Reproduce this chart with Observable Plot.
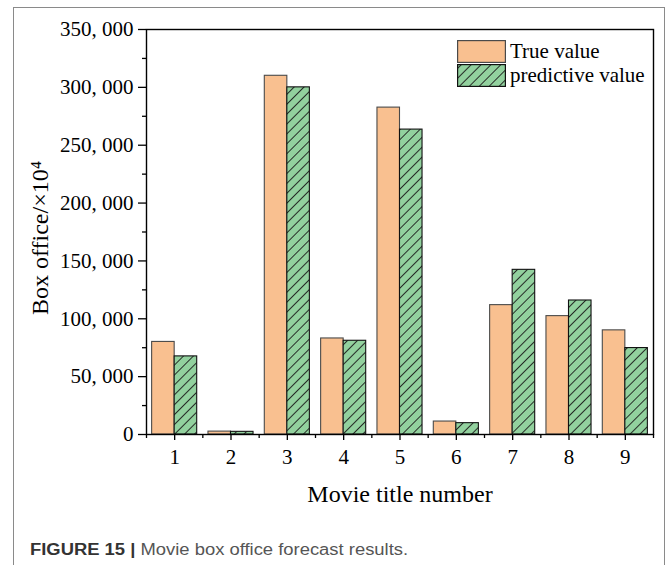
<!DOCTYPE html>
<html>
<head>
<meta charset="utf-8">
<script src="https://cdn.jsdelivr.net/npm/d3@7"></script>
<script src="https://cdn.jsdelivr.net/npm/@observablehq/plot@0.6"></script>
<style>
  html, body { margin: 0; padding: 0; background: #fff; }
  #wrap { position: relative; width: 668px; height: 565px; overflow: hidden; background: #fff; }
  #border { position: absolute; left: 13px; top: 7px; width: 652px; height: 600px; border: 1px solid #8a8a8a; box-sizing: border-box; }
  #chart { position: absolute; left: 0; top: 0; }
  #legend { position: absolute; left: 457px; top: 40px; font-family: "Liberation Serif", serif; font-size: 21px; color: #000; }
  .row { display: flex; align-items: center; height: 23.5px; }
  .row svg { margin-right: 4px; display: block; }
  #caption { position: absolute; left: 30px; top: 541px; font-family: "Liberation Sans", Arial, sans-serif; font-size: 16px; color: #555; white-space: nowrap; transform: scaleX(1.15); transform-origin: 0 0; }
  #caption b { color: #333; }
</style>
</head>
<body>
<svg width="0" height="0" style="position:absolute">
  <defs>
    <pattern id="hatch" patternUnits="userSpaceOnUse" width="7" height="7" patternTransform="rotate(45)">
      <rect width="7" height="7" fill="#92D19E"></rect>
      <line x1="3.5" y1="0" x2="3.5" y2="7" stroke="#1a1a1a" stroke-width="0.9"></line>
    </pattern>
  </defs>
</svg>
<div id="wrap">
  <div id="border"></div>
  <div id="chart"></div>
  <div id="legend"></div>
  <div id="caption"><b>FIGURE 15 | </b>Movie box office forecast results.</div>
</div>
<script>
// ---- data ----
const movies = [1, 2, 3, 4, 5, 6, 7, 8, 9];
const trueValue = [80000, 2500, 310000, 83000, 282500, 11200, 111800, 102300, 90000];
const predictiveValue = [67500, 2300, 300000, 81000, 263500, 9800, 142300, 115800, 74700];
const seriesNames = ["True value", "predictive value"];
const yTicks = [0, 50000, 100000, 150000, 200000, 250000, 300000, 350000];
const yMinorTicks = [25000, 75000, 125000, 175000, 225000, 275000, 325000];
const xMinorTicks = [0.5, 1.5, 2.5, 3.5, 4.5, 5.5, 6.5, 7.5, 8.5, 9.5];
const xLabel = "Movie title number";
const yLabel = "Box office/×10⁴";

// ---- styles ----
const fills = {"True value": "#F9C090", "predictive value": "url(#hatch)"};
const strokes = {"True value": "#4a4a4a", "predictive value": "#111"};
const half = 0.4; // each bar is 0.4 of a category step

const rows = [];
movies.forEach((m, i) => {
  rows.push({movie: m, series: seriesNames[0], value: trueValue[i], x1: m - half, x2: m});
  rows.push({movie: m, series: seriesNames[1], value: predictiveValue[i], x1: m, x2: m + half});
});

const fmt = d => d3.format(",")(d).replace(",", ", ");

const chart = Plot.plot({
  width: 668,
  height: 515,
  marginLeft: 146,
  marginRight: 15,
  marginTop: 29,
  marginBottom: 81,
  style: {fontFamily: "Liberation Serif, serif", fontSize: "21px", color: "#000", background: "transparent", overflow: "visible"},
  x: {domain: [0.5, 9.5]},
  y: {domain: [0, 350000]},
  marks: [
    Plot.rectY(rows, {
      x1: "x1", x2: "x2", y1: 0, y2: "value",
      fill: d => fills[d.series],
      stroke: d => strokes[d.series],
      strokeWidth: 1.1
    }),
    Plot.frame({stroke: "#000", strokeWidth: 1.4}),
    Plot.axisY({ticks: yTicks, tickSize: 8, tickPadding: 5, tickFormat: fmt, strokeWidth: 1.3, label: null}),
    Plot.axisY({ticks: yMinorTicks, tickSize: 4, tickFormat: () => "", strokeWidth: 1.3, label: null}),
    Plot.axisX({ticks: movies, tickSize: 6, tickPadding: 9, tickFormat: d => String(d), strokeWidth: 1.3, label: null}),
    Plot.axisX({ticks: xMinorTicks, tickSize: 4, tickFormat: () => "", strokeWidth: 1.3, label: null}),
    Plot.text([yLabel], {frameAnchor: "left", textAnchor: "middle", lineAnchor: "middle", rotate: -90, dx: -106, dy: 6, fontSize: 24, fill: "#000"}),
    Plot.text([xLabel], {frameAnchor: "bottom", textAnchor: "middle", dy: 67, fontSize: 24, fill: "#000"})
  ]
});
document.getElementById("chart").appendChild(chart);

// legend
const legend = document.getElementById("legend");
seriesNames.forEach(name => {
  const row = document.createElement("div");
  row.className = "row";
  row.innerHTML = `<svg width="49" height="23"><rect x="0.6" y="0.6" width="47.8" height="21.8" fill="${fills[name]}" stroke="${strokes[name]}" stroke-width="1.2"></rect></svg><span>${name}</span>`;
  legend.appendChild(row);
});
</script>
</body>
</html>
